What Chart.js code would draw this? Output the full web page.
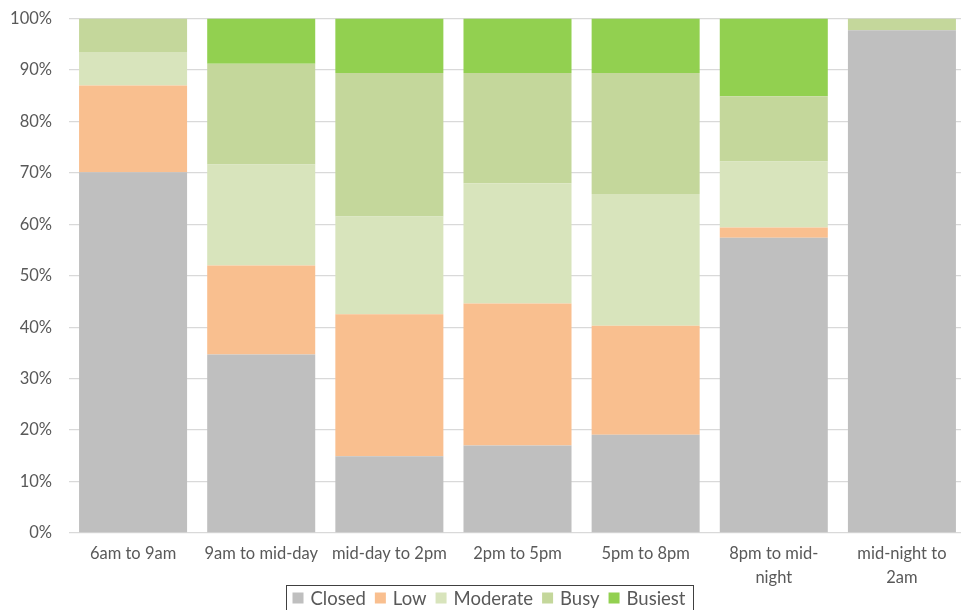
<!DOCTYPE html>
<html>
<head>
<meta charset="utf-8">
<script src="https://cdn.jsdelivr.net/npm/chart.js@4/dist/chart.umd.min.js"></script>
<style>
  html, body { margin: 0; padding: 0; background: #fff; overflow: hidden; }
  #wrap { width: 966px; height: 610px; position: relative; }
</style>
</head>
<body>
<div id="wrap"><canvas id="c"></canvas></div>
<script>
// Time slots along the x axis
const categories = [
  '6am to 9am',
  '9am to mid-day',
  'mid-day to 2pm',
  '2pm to 5pm',
  '5pm to 8pm',
  ['8pm to mid-', 'night'],
  ['mid-night to', '2am']
];

// Share of each busyness level per time slot (percent, stacks to 100)
const closed   = [70.1, 34.7, 14.9, 17.0, 19.1, 57.4, 97.7];
const low      = [16.9, 17.3, 27.6, 27.6, 21.2,  2.0,  0.0];
const moderate = [ 6.5, 19.6, 19.0, 23.4, 25.6, 12.8,  0.0];
const busy     = [ 6.5, 19.6, 27.9, 21.4, 23.5, 12.7,  2.3];
const busiest  = [ 0.0,  8.8, 10.6, 10.6, 10.6, 15.1,  0.0];

const seriesNames = ['Closed', 'Low', 'Moderate', 'Busy', 'Busiest'];
const yTicks = [0, 10, 20, 30, 40, 50, 60, 70, 80, 90, 100];

const colors = ['#bfbfbf', '#f9bf8f', '#d8e4bc', '#c4d79b', '#92d050'];
const textColor = '#595959';
const FONT = 'Lato, "Open Sans", sans-serif';

const seriesValues = [closed, low, moderate, busy, busiest];
const datasets = seriesNames.map((name, i) => ({
  label: name,
  data: seriesValues[i],
  backgroundColor: colors[i],
  borderWidth: 0,
  barPercentage: 0.843,
  categoryPercentage: 1.0
}));

// Boxed legend drawn under the axis labels
const boxedLegend = {
  id: 'boxedLegend',
  afterDraw(chart) {
    const ctx = chart.ctx;
    const box = 11, gapText = 7, gapItem = 9, padX = 7;
    ctx.save();
    ctx.font = '18.5px ' + FONT;
    const widths = chart.data.datasets.map(d => ctx.measureText(d.label).width);
    let total = 0;
    widths.forEach((w, i) => { total += box + gapText + w + (i < widths.length - 1 ? gapItem : 0); });
    const cx = 489;
    const left = cx - total / 2;
    const top = 585, midY = 598;
    ctx.strokeStyle = '#404040';
    ctx.lineWidth = 1;
    ctx.strokeRect(Math.round(left - padX) + 0.5, top + 0.5, Math.round(total + 2 * padX), 30);
    let x = left;
    ctx.textBaseline = 'middle';
    ctx.textAlign = 'left';
    chart.data.datasets.forEach((d, i) => {
      ctx.fillStyle = d.backgroundColor;
      ctx.fillRect(x, midY - box / 2, box, box);
      x += box + gapText;
      ctx.fillStyle = textColor;
      ctx.fillText(d.label, x, midY + 1);
      x += widths[i] + gapItem;
    });
    ctx.restore();
  }
};

new Chart(document.getElementById('c'), {
  type: 'bar',
  data: { labels: categories, datasets },
  options: {
    responsive: true,
    maintainAspectRatio: false,
    animation: false,
    layout: { padding: { top: 18.5, right: 0, bottom: 0, left: 0 } },
    plugins: {
      legend: { display: false },
      tooltip: { enabled: false }
    },
    scales: {
      x: {
        stacked: true,
        grid: { display: false, drawTicks: false },
        border: { display: false },
        ticks: {
          color: textColor,
          font: { family: FONT, size: 16.5, lineHeight: 1.5 },
          padding: 8,
          maxRotation: 0,
          autoSkip: false
        },
        afterFit(s) { s.height = 77; }
      },
      y: {
        stacked: true,
        min: 0,
        max: 100,
        afterBuildTicks(s) { s.ticks = yTicks.map(v => ({ value: v })); },
        grid: { color: '#d9d9d9', lineWidth: 1.3, drawTicks: false },
        border: { display: false },
        ticks: {
          color: textColor,
          font: { family: FONT, size: 16.5 },
          padding: 17,
          callback: v => v + '%'
        },
        afterFit(s) {
          s.width = 69;
          s.paddingTop = 0;
          s.paddingBottom = 0;
        }
      }
    }
  },
  plugins: [boxedLegend]
});
</script>
</body>
</html>
